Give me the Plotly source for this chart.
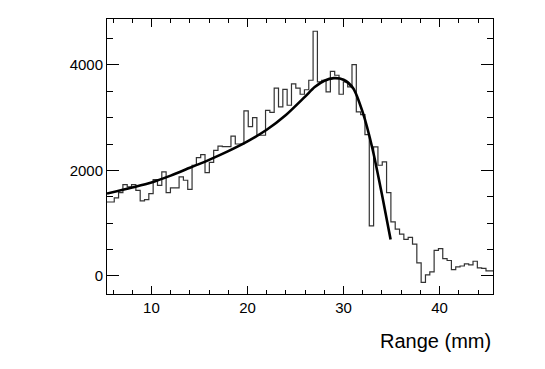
import plotly.graph_objects as go

# histogram: 90 bins of 0.45 mm starting at 5.23 mm (first bin partly outside the axis)
bin_start = 5.23
bin_width = 0.45
counts = [
    1400, 1400, 1477, 1578, 1730, 1685, 1730, 1622, 1420, 1445,
    1559, 1825, 1717, 1970, 1578, 1667, 1667, 1875, 1812, 1641,
    2097, 2240, 2300, 1958, 2150, 2381, 2460, 2450, 2450, 2650,
    2500, 2500, 3130, 2830, 3002, 2666, 2666, 3140, 3100, 3560,
    3203, 3535, 3235, 3640, 3560, 3444, 3530, 3710, 4640, 3678,
    3710, 3488, 3880, 3805, 3444, 3678, 3583, 4007, 3108, 3058,
    2679, 945, 2444, 2097, 2160, 1578, 1021, 885, 790, 690,
    730, 600, 243, -125, 15, 75, 480, 516, 326, 290,
    117, 167, 185, 225, 205, 275, 150, 140, 92, 92,
]

# fitted curve
fit_x = [5.375, 8, 10, 12, 14, 16, 18, 20, 22, 24, 26, 27, 28, 29, 30, 31, 32, 33, 34, 34.9]
fit_y = [1560, 1675, 1770, 1900, 2050, 2200, 2365, 2550, 2770, 3050, 3400, 3580, 3700, 3750, 3720, 3560, 3100, 2420, 1540, 690]

edges = [bin_start + i * bin_width for i in range(len(counts) + 1)]

fig = go.Figure()

fig.add_trace(go.Scatter(
    x=edges, y=counts + [counts[-1]],
    mode='lines', line=dict(shape='hv', color='#333333', width=1.2),
    showlegend=False, hoverinfo='skip'
))

fig.add_trace(go.Scatter(
    x=fit_x, y=fit_y,
    mode='lines', line=dict(shape='spline', smoothing=0.8, color='black', width=2.6),
    showlegend=False
))

axis_font = dict(family='Liberation Sans, Arial, sans-serif', size=15, color='black')

# page body has an 8px margin, so the figure is shifted by 8px right and down
fig.update_layout(
    width=545, height=369,
    margin=dict(l=99, r=60, t=11, b=83),
    paper_bgcolor='white', plot_bgcolor='white',
    font=axis_font,
    xaxis=dict(
        range=[5.375, 45.56], tickvals=[10, 20, 30, 40],
        ticks='inside', ticklen=8, tickcolor='black',
        minor=dict(dtick=2, tick0=0, ticks='inside', ticklen=4, tickcolor='black', showgrid=False),
        showline=True, linecolor='black', linewidth=1, mirror='allticks',
        showgrid=False, zeroline=False, tickfont=axis_font
    ),
    yaxis=dict(
        range=[-346, 4872], tickvals=[0, 2000, 4000],
        ticks='inside', ticklen=12, tickcolor='black',
        minor=dict(dtick=500, tick0=0, ticks='inside', ticklen=6, tickcolor='black', showgrid=False),
        showline=True, linecolor='black', linewidth=1, mirror='allticks',
        showgrid=False, zeroline=False, tickfont=axis_font
    ),
    annotations=[dict(
        text='Range (mm)', xref='paper', yref='paper', x=1, y=-0.17,
        xanchor='right', yanchor='middle', showarrow=False,
        font=dict(family='Liberation Sans, Arial, sans-serif', size=20, color='black')
    )]
)

fig.write_html("out.html")
